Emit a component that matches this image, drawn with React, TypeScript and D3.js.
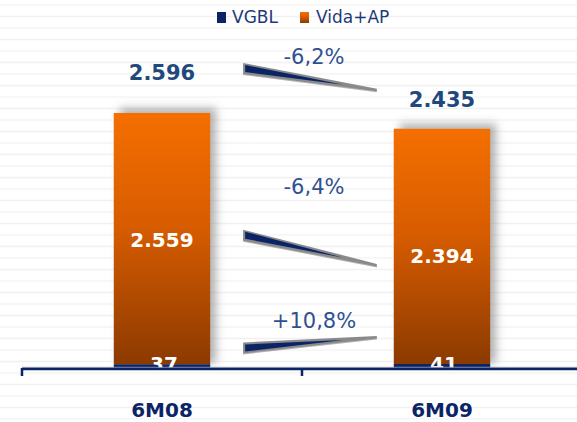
import React from "react";
import * as d3 from "d3";

const categories = ["6M08", "6M09"];
const vgbl = [37, 41];
const vidaAp = [2559, 2394];
const totals = [2596, 2435];
const totalLabels = ["2.596", "2.435"];
const vidaLabels = ["2.559", "2.394"];
const vgblLabels = ["37", "41"];
const changeLabels = ["-6,2%", "-6,4%", "+10,8%"];
const seriesNames = ["VGBL", "Vida+AP"];

const W = 577;
const H = 422;
const NAVY = "#0B2466";
const VALUE_BLUE = "#1F497D";
const PCT_BLUE = "#2F5191";
const FONT = "'DejaVu Sans', Verdana, sans-serif";

export default function App() {
  const x = d3.scaleBand<string>().domain(categories).range([22, 582]).paddingInner(0).paddingOuter(0);
  const y = d3.scaleLinear().domain([0, 3000]).range([368, 73.3]);
  const barW = x.bandwidth() * 0.344;
  const cx = (c: string) => (x(c) as number) + x.bandwidth() / 2;

  const stripes = d3.range(0, 40).map((i) => 5 + i * 11.5);

  const leftX = cx(categories[0]) + barW / 2 + 33;
  const tipX = cx(categories[1]) - barW / 2 - 17;
  const wedges = [
    { l: y(totals[0]) - 44.5, r: y(totals[1]) - 39, label: changeLabels[0], ly: 64 },
    { l: y(vgbl[0] + vidaAp[0] / 2) - 3.5, r: y(vgbl[1] + vidaAp[1] / 2) + 18.5, label: changeLabels[1], ly: 194 },
    { l: y(0) - 20, r: y(0) - 31, label: changeLabels[2], ly: 328 },
  ];
  const totalOffsets = [-33, -22];
  const half = 5.5;

  return (
    <svg width={W} height={H} style={{ position: "absolute", left: 0, top: 0, background: "#fff" }}>
      <defs>
        <linearGradient id="orangeGrad" x1="0" y1="0" x2="0" y2="1">
          <stop offset="0%" stopColor="#F56F00" />
          <stop offset="45%" stopColor="#D75C00" />
          <stop offset="100%" stopColor="#8C3A00" />
        </linearGradient>
        <linearGradient id="stripeGrad" x1="0" y1="0" x2="0" y2="1">
          <stop offset="0%" stopColor="#ffffff" stopOpacity="0" />
          <stop offset="50%" stopColor="#f1f1f1" stopOpacity="1" />
          <stop offset="100%" stopColor="#ffffff" stopOpacity="0" />
        </linearGradient>
        <filter id="shadow" x="-30%" y="-30%" width="160%" height="160%">
          <feDropShadow dx="6" dy="-5" stdDeviation="4" floodColor="#666" floodOpacity="0.5" />
        </filter>
        <filter id="wshadow" x="-10%" y="-50%" width="120%" height="200%">
          <feDropShadow dx="0" dy="1" stdDeviation="0.6" floodColor="#666" floodOpacity="0.5" />
        </filter>
      </defs>

      {stripes.map((s, i) => (
        <rect key={i} x={0} y={s - 2} width={W} height={4} fill="url(#stripeGrad)" />
      ))}

      <g fontFamily={FONT} fontSize={17} fill="#1F3A78">
        <rect x={217} y={12} width={9} height={11} fill={NAVY} />
        <text x={232} y={23}>{seriesNames[0]}</text>
        <rect x={300} y={12} width={9} height={11} fill="url(#orangeGrad)" />
        <text x={316} y={23}>{seriesNames[1]}</text>
      </g>

      {categories.map((c, i) => {
        const x0 = cx(c) - barW / 2;
        const yTop = y(totals[i]);
        const yMid = y(vgbl[i]);
        return (
          <g key={c}>
            <rect x={x0} y={yTop} width={barW} height={y(0) - yTop} fill="#aaa" filter="url(#shadow)" />
            <rect x={x0} y={yTop} width={barW} height={yMid - yTop} fill="url(#orangeGrad)" />
            <rect x={x0} y={yMid} width={barW} height={y(0) - yMid} fill={NAVY} />
          </g>
        );
      })}

      {wedges.map((w, i) => (
        <g key={i}>
          <polygon
            points={`${leftX},${w.l - half} ${leftX},${w.l + half} ${tipX},${w.r + 1.5} ${tipX},${w.r - 1}`}
            fill="#8a8a8a"
            filter="url(#wshadow)"
          />
          <polygon
            points={`${leftX + 2},${w.l - half + 2} ${leftX + 2},${w.l + half - 2} ${leftX + (tipX - leftX) * 0.75},${w.l + (w.r - w.l) * 0.75 + 0.3}`}
            fill={NAVY}
          />
          <text
            x={(leftX + tipX) / 2 + 4}
            y={w.ly}
            textAnchor="middle"
            fontFamily={FONT}
            fontSize={21}
            fill={PCT_BLUE}
          >
            {w.label}
          </text>
        </g>
      ))}

      {categories.map((c, i) => (
        <g key={c} fontFamily={FONT} fontWeight="bold" textAnchor="middle">
          <text x={cx(c)} y={y(totals[i]) + totalOffsets[i]} fontSize={21} fill={VALUE_BLUE}>
            {totalLabels[i]}
          </text>
          <text x={cx(c)} y={y(vgbl[i] + vidaAp[i] / 2) + 8 + i * 9} fontSize={20} fill="#fff">
            {vidaLabels[i]}
          </text>
          <text x={cx(c) + 2} y={y(0) + 3} fontSize={20} fill="#fff">
            {vgblLabels[i]}
          </text>
        </g>
      ))}

      <line x1={22} x2={W} y1={367.3} y2={367.3} stroke="#9aa3b8" strokeWidth={1} />
      <line x1={22} x2={W} y1={369} y2={369} stroke={NAVY} strokeWidth={2.5} />
      {[...categories.map((c) => x(c) as number), 582].map((t, i) => (
        <line key={i} x1={t} x2={t} y1={368} y2={376} stroke={NAVY} strokeWidth={2.5} />
      ))}
      {categories.map((c) => (
        <text
          key={c}
          x={cx(c)}
          y={417}
          textAnchor="middle"
          fontFamily={FONT}
          fontWeight="bold"
          fontSize={20}
          fill={NAVY}
        >
          {c}
        </text>
      ))}
    </svg>
  );
}
